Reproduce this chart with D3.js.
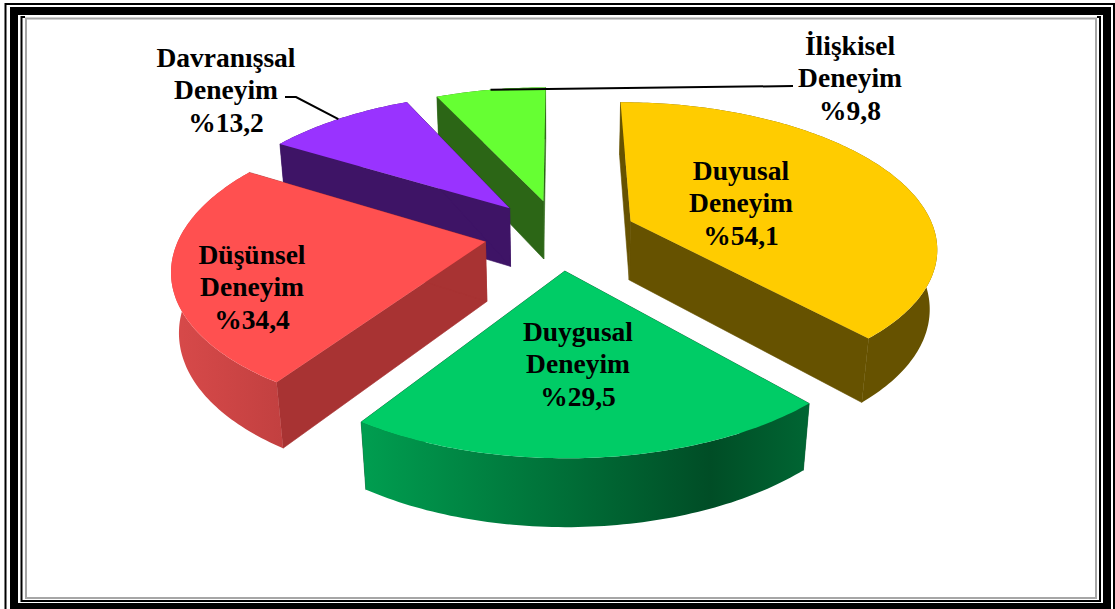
<!DOCTYPE html>
<html lang="tr">
<head>
<meta charset="utf-8">
<title>Deneyim türleri</title>
<script src="https://cdn.jsdelivr.net/npm/d3@7"></script>
<style>
  html, body { margin: 0; padding: 0; background: #fff; }
  svg { display: block; }
  text { font-family: "Liberation Serif", "Times New Roman", serif; font-weight: bold; font-size: 27.5px; fill: #000; text-anchor: middle; }
</style>
</head>
<body>
<svg id="chart" width="1115" height="609"></svg>
<script>
// Experience types and their shares, clockwise from twelve o'clock
const names = [["Duyusal", "Deneyim"], ["Duygusal", "Deneyim"], ["Düşünsel", "Deneyim"], ["Davranışsal", "Deneyim"], ["İlişkisel", "Deneyim"]];
const values = [54.1, 29.5, 34.4, 13.2, 9.8];
const explodes = [0.255, 0.25, 0.245, 0.25, 0.245];
const topColors = ["#FFCC00", "#00CC66", "#FF5050", "#9933FF", "#66FF33"];
const wallColors = ["#665200", "#005228", "#A83333", "#3E1466", "#2C6616"];
const rimStops = [
  [["0%", "#665200"], ["100%", "#665200"]],
  [["0%", "#009E50"], ["78%", "#004D26"], ["100%", "#006633"]],
  [["0%", "#D84A4A"], ["100%", "#C24040"]],
  [["0%", "#3E1466"], ["100%", "#3E1466"]],
  [["0%", "#2C6616"], ["100%", "#2C6616"]]
];
const drawOrder = [4, 3, 2, 0, 1];
const labelAnchors = [[741, 180], [578, 341], [252, 264], [226, 67], [850, 55]];
const lineHeight = 32.3;

const svg = d3.select("#chart");
const width = 1115, height = 609;

// Frame: nested black rules and an inner grey rule
svg.append("rect").attr("width", width).attr("height", height).attr("fill", "#fff");
const frame = svg.append("g").attr("fill", "none");
frame.append("rect").attr("x", 5.5).attr("y", 4).attr("width", 1108.5).attr("height", 620).attr("stroke", "#000").attr("stroke-width", 2);
frame.append("rect").attr("x", 14).attr("y", 11).attr("width", 1093).attr("height", 596).attr("stroke", "#000").attr("stroke-width", 8);
frame.append("path").attr("d", "M25,17H21.5V601H1100V17H1097").attr("stroke", "#000").attr("stroke-width", 2);
frame.append("rect").attr("x", 26).attr("y", 18.5).attr("width", 1070).attr("height", 579.5).attr("stroke", "#A6A6A6").attr("stroke-width", 2);

// Perspective view of the pie: ground units are pie radii, z runs 0 (top) to 1 (base)
const perspective = 0.165, baseShrink = 0.02, thickness = 0.425;
const sx = d3.scaleLinear().domain([-1, 1]).range([559 - 305, 559 + 305]);
const sy = d3.scaleLinear().domain([-1, 1]).range([234 + 142.5, 234 - 142.5]);
function project(u, v, z) {
  const w = 1 + perspective * v + baseShrink * z;
  return [sx(u / w), sy((v - thickness * z) / w)];
}

const pieLayout = d3.pie().sort(null).startAngle(0).endAngle(2 * Math.PI);
const arcs = pieLayout(values);
const line = d3.line();

const defs = svg.append("defs");
rimStops.forEach((stops, i) => {
  const g = defs.append("linearGradient").attr("id", "rim" + i);
  stops.forEach(s => g.append("stop").attr("offset", s[0]).attr("stop-color", s[1]));
});

function sliceGeometry(d) {
  const mid = (d.startAngle + d.endAngle) / 2;
  const ox = explodes[d.index] * Math.sin(mid), oy = explodes[d.index] * Math.cos(mid);
  const at = (a, z, r = 1) => project(ox + r * Math.sin(a), oy + r * Math.cos(a), z);
  const step = Math.PI / 180;
  const angles = d3.range(d.startAngle, d.endAngle, step).concat([d.endAngle]);
  return { mid, at, angles };
}

const slices = svg.append("g");
drawOrder.forEach(i => {
  const d = arcs[i];
  const { at, angles } = sliceGeometry(d);
  const g = slices.append("g");
  const apexTop = at(0, 0, 0), apexBase = at(0, 1, 0);

  // Radial walls, with a hairline stroke so neighbouring faces leave no seam
  [d.startAngle, d.endAngle].forEach(a => {
    g.append("path")
      .attr("d", line([apexTop, at(a, 0), at(a, 1), apexBase]) + "Z")
      .attr("fill", wallColors[i])
      .attr("stroke", wallColors[i]).attr("stroke-width", 0.6);
  });
  // Curved outer wall
  const rim = angles.map(a => at(a, 0)).concat(angles.slice().reverse().map(a => at(a, 1)));
  g.append("path").attr("d", line(rim) + "Z").attr("fill", `url(#rim${i})`);
  // Top face
  g.append("path")
    .attr("d", line([apexTop].concat(angles.map(a => at(a, 0)))) + "Z")
    .attr("fill", topColors[i]);
});

// Leader lines for the two small slices
const leaderEnds = { 3: [[296, 97], [285, 97]], 4: [[793, 86]] };
Object.keys(leaderEnds).forEach(k => {
  const { at, mid } = sliceGeometry(arcs[k]);
  svg.append("path")
    .attr("d", line([at(mid, 0)].concat(leaderEnds[k])))
    .attr("fill", "none").attr("stroke", "#000").attr("stroke-width", 2);
});

// Labels: name over two lines, then the share with a leading % and decimal comma
const labels = svg.append("g");
names.forEach((lines, i) => {
  const [x, y] = labelAnchors[i];
  const content = lines.concat("%" + String(values[i]).replace(".", ","));
  content.forEach((t, j) => {
    labels.append("text").attr("x", x).attr("y", y + j * lineHeight).text(t);
  });
});
</script>
</body>
</html>
